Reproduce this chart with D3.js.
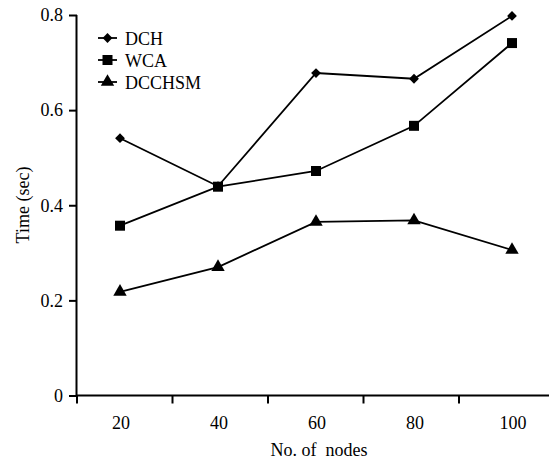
<!DOCTYPE html>
<html>
<head>
<meta charset="utf-8">
<script src="https://cdn.jsdelivr.net/npm/d3@7"></script>
<style>
  html, body { margin: 0; padding: 0; background: #fff; }
  svg { display: block; font-family: "Liberation Serif", "DejaVu Serif", serif; }
</style>
</head>
<body>
<svg id="chart" width="549" height="459"></svg>
<script>
// data
const nodes = ["20", "40", "60", "80", "100"];
const dch = [0.541, 0.440, 0.678, 0.666, 0.798];
const wca = [0.357, 0.439, 0.472, 0.567, 0.741];
const dcchsm = [0.218, 0.270, 0.365, 0.368, 0.306];
const yTicks = [0, 0.2, 0.4, 0.6, 0.8];

const series = [
  { name: "DCH", values: dch, shape: "diamond" },
  { name: "WCA", values: wca, shape: "square" },
  { name: "DCCHSM", values: dcchsm, shape: "triangle" }
];

const svg = d3.select("#chart");
const W = 549, H = 459;
const plotLeft = 77, plotBottom = 395.5, plotTop = 15;

// category axis: tick marks between categories (band), points + labels on a point scale
const xBand = d3.scaleBand().domain(nodes).range([plotLeft, plotLeft + 5 * 95.5]);
const x = d3.scalePoint().domain(nodes).range([120, 512]);
const y = d3.scaleLinear().domain([0, 0.8]).range([plotBottom, plotTop]);

const markerPath = (shape) => {
  if (shape === "diamond") return d3.symbol(d3.symbolSquare, 48)();
  if (shape === "square") return d3.symbol(d3.symbolSquare, 100)();
  return d3.symbol(d3.symbolTriangle, 78)();
};
const markerRot = (shape) => shape === "diamond" ? " rotate(45)" : "";

// y axis
const yAxis = svg.append("g")
  .attr("transform", `translate(${plotLeft},0)`)
  .call(d3.axisLeft(y).tickValues(yTicks).tickSize(8).tickPadding(6)
    .tickFormat(d => d === 0 ? "0" : d3.format(".1f")(d)));
yAxis.select(".domain").attr("stroke-width", 2).attr("d", `M-0.5,${plotTop}V${plotBottom}`);
yAxis.selectAll(".tick line").attr("stroke-width", 2);
yAxis.selectAll(".tick text").attr("font-size", 18).attr("font-family", "Liberation Serif").attr("fill", "#000");

// x axis: line + boundary ticks + labels
const xg = svg.append("g").attr("transform", `translate(0,${plotBottom})`);
xg.append("line")
  .attr("x1", plotLeft - 1).attr("x2", W)
  .attr("stroke", "#000").attr("stroke-width", 2);
xg.selectAll("line.tk")
  .data(nodes)
  .join("line")
  .attr("class", "tk")
  .attr("x1", d => xBand(d)).attr("x2", d => xBand(d))
  .attr("y1", 0).attr("y2", 8)
  .attr("stroke", "#000").attr("stroke-width", 2);
xg.selectAll("text")
  .data(nodes)
  .join("text")
  .attr("x", d => x(d) + 1)
  .attr("y", 33)
  .attr("text-anchor", "middle")
  .attr("font-size", 18)
  .text(d => d);

// axis titles
svg.append("text")
  .attr("x", 319).attr("y", 456)
  .attr("text-anchor", "middle")
  .attr("font-size", 18)
  .style("white-space", "pre")
  .text("No. of  nodes");
svg.append("text")
  .attr("transform", "translate(29,205) rotate(-90)")
  .attr("text-anchor", "middle")
  .attr("font-size", 18)
  .text("Time (sec)");

// lines + markers
const line = d3.line().x((d, i) => x(nodes[i])).y(d => y(d));

series.forEach(s => {
  svg.append("path")
    .attr("d", line(s.values))
    .attr("fill", "none")
    .attr("stroke", "#000")
    .attr("stroke-width", 1.8);
  svg.append("g").selectAll("path")
    .data(s.values)
    .join("path")
    .attr("d", markerPath(s.shape))
    .attr("transform", (d, i) => `translate(${x(nodes[i])},${y(d)})${markerRot(s.shape)}`)
    .attr("fill", "#000");
});

// legend
const lg = svg.append("g").attr("transform", "translate(98,38)");
series.forEach((s, i) => {
  const row = lg.append("g").attr("transform", `translate(0,${i * 22})`);
  row.append("line").attr("x1", 0).attr("x2", 19).attr("stroke", "#000").attr("stroke-width", 1.8);
  row.append("path")
    .attr("d", markerPath(s.shape))
    .attr("transform", `translate(9.5,0)${markerRot(s.shape)}`)
    .attr("fill", "#000");
  row.append("text")
    .attr("x", 27).attr("y", 6.5)
    .attr("font-size", 18)
    .text(s.name);
});
</script>
</body>
</html>
